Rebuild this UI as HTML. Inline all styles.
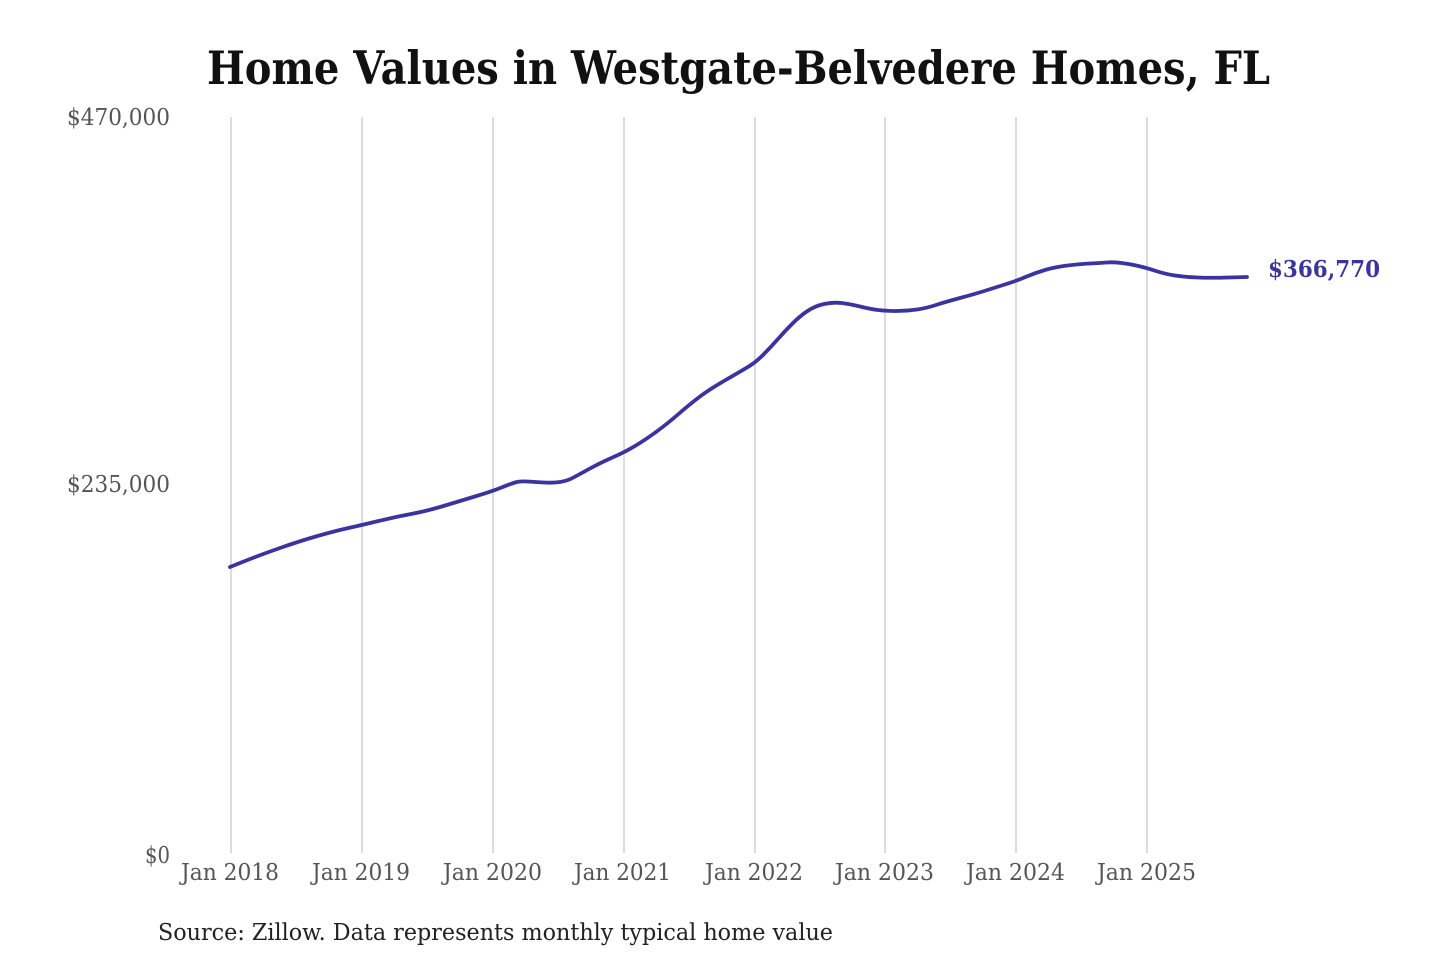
<!DOCTYPE html>
<html><head><meta charset="utf-8"><style>
html,body{margin:0;padding:0;background:#fff;}
svg{display:block;}
</style></head><body>
<svg width="1440" height="960" viewBox="0 0 1440 960" xmlns="http://www.w3.org/2000/svg">
<rect width="1440" height="960" fill="#fff"/>
<text x="207" y="84" font-family="DejaVu Serif, Liberation Serif, serif" font-weight="bold" font-size="46" fill="#111" textLength="1063" lengthAdjust="spacingAndGlyphs">Home Values in Westgate-Belvedere Homes, FL</text>
<g stroke="#c9c9c9" stroke-width="1.3">
<line x1="231" y1="117" x2="231" y2="853"/>
<line x1="362" y1="117" x2="362" y2="853"/>
<line x1="493" y1="117" x2="493" y2="853"/>
<line x1="624" y1="117" x2="624" y2="853"/>
<line x1="755" y1="117" x2="755" y2="853"/>
<line x1="885" y1="117" x2="885" y2="853"/>
<line x1="1016" y1="117" x2="1016" y2="853"/>
<line x1="1147" y1="117" x2="1147" y2="853"/>
</g>
<g font-family="DejaVu Serif, Liberation Serif, serif" font-size="23.5" fill="#555">
<text x="67" y="125" textLength="103" lengthAdjust="spacingAndGlyphs">$470,000</text>
<text x="67" y="492" textLength="103" lengthAdjust="spacingAndGlyphs">$235,000</text>
<text x="145" y="863" textLength="25" lengthAdjust="spacingAndGlyphs">$0</text>
<text x="181" y="880" textLength="98" lengthAdjust="spacingAndGlyphs">Jan 2018</text>
<text x="312" y="880" textLength="98" lengthAdjust="spacingAndGlyphs">Jan 2019</text>
<text x="443" y="880" textLength="99" lengthAdjust="spacingAndGlyphs">Jan 2020</text>
<text x="574" y="880" textLength="97" lengthAdjust="spacingAndGlyphs">Jan 2021</text>
<text x="705" y="880" textLength="98" lengthAdjust="spacingAndGlyphs">Jan 2022</text>
<text x="835" y="880" textLength="99" lengthAdjust="spacingAndGlyphs">Jan 2023</text>
<text x="966" y="880" textLength="99" lengthAdjust="spacingAndGlyphs">Jan 2024</text>
<text x="1097" y="880" textLength="99" lengthAdjust="spacingAndGlyphs">Jan 2025</text>
</g>
<path fill="none" stroke="#3b34a0" stroke-width="3.8" stroke-linejoin="round" stroke-linecap="round"
d="M230,567 L245,561 Q260,555 280,548 Q300,541 317.5,536 Q335,531 348.5,528 Q362,525 378.5,521 Q395,517 411,514 Q427,511 443.5,506 Q460,501 476.5,496 Q493,491 501.5,487.5 Q510,484 515,482.5 Q520,481 527.5,481.5 Q535,482 544,482.5 Q553,483 560,482 Q567,481 573.5,477.5 Q580,474 590,468.5 Q600,463 612.5,457.5 Q625,452 635,446 Q645,440 656,432 Q667,424 678.5,414 Q690,404 700,396.5 Q710,389 726.5,379.5 Q743,370 749.5,366 Q756,362 763,355 Q770,348 777.5,339.5 Q785,331 792.5,323.5 Q800,316 807.5,311 Q815,306 824,304 Q833,302 841.5,303 Q850,304 860,306.5 Q870,309 878,310 Q886,311 896.5,311 Q907,311 917,309.5 Q927,308 936,305 Q945,302 960,298 Q975,294 987.5,290 Q1000,286 1008,283.5 Q1016,281 1025.5,277 Q1035,273 1045,270 Q1055,267 1067.5,265.5 Q1080,264 1090,263.5 Q1100,263 1106.5,262.5 Q1113,262 1121.5,263 Q1130,264 1138.5,266 Q1147,268 1156,271 Q1165,274 1175,275.5 Q1185,277 1197.5,277.5 Q1210,278 1228.5,277.5 L1247,277"/>
<text x="1268" y="277" font-family="DejaVu Serif, Liberation Serif, serif" font-weight="bold" font-size="23" fill="#3b34a0" textLength="112" lengthAdjust="spacingAndGlyphs">$366,770</text>
<text x="158" y="940" font-family="DejaVu Serif, Liberation Serif, serif" font-size="23" fill="#222" textLength="675" lengthAdjust="spacingAndGlyphs">Source: Zillow. Data represents monthly typical home value</text>
</svg>
</body></html>
